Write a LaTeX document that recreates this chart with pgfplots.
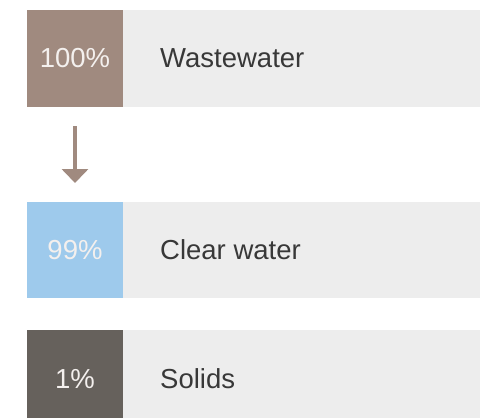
\documentclass[border=0pt]{standalone}
\usepackage{fontspec}
\setmainfont{Liberation Sans}
\usepackage{pgfplots}
\pgfplotsset{compat=1.18}
\usetikzlibrary{arrows.meta}
\definecolor{boxbrown}{HTML}{A08A7F}
\definecolor{boxblue}{HTML}{9ECAEC}
\definecolor{boxdark}{HTML}{66615C}
\definecolor{bargrey}{HTML}{EDEDED}
\definecolor{txt}{HTML}{383838}
\definecolor{wtxt}{HTML}{F4F0EE}
\begin{document}
\begin{tikzpicture}
\begin{axis}[
  name=ax,
  scale only axis, width=480pt, height=418pt,
  xmin=0, xmax=480, ymin=0, ymax=418, y dir=reverse,
  axis lines=none, ticks=none, clip=true,
]
% grey bars
\addplot[fill=bargrey, draw=none] coordinates {(123,10) (480,10) (480,107) (123,107)} -- cycle;
\addplot[fill=bargrey, draw=none] coordinates {(123,202) (480,202) (480,298) (123,298)} -- cycle;
\addplot[fill=bargrey, draw=none] coordinates {(123,330) (480,330) (480,418) (123,418)} -- cycle;
% coloured boxes
\addplot[fill=boxbrown, draw=none] coordinates {(27,10) (123,10) (123,107) (27,107)} -- cycle;
\addplot[fill=boxblue, draw=none] coordinates {(27,202) (123,202) (123,298) (27,298)} -- cycle;
\addplot[fill=boxdark, draw=none] coordinates {(27,330) (123,330) (123,418) (27,418)} -- cycle;
% arrow
\addplot[boxbrown, line width=4.5pt, -{Triangle[width=26pt,length=14pt]}] coordinates {(75,126) (75,183)};
% texts
\node[text=wtxt, font=\fontsize{27.5}{32}\selectfont] at (axis cs:75,58.5) {100\%};
\node[text=wtxt, font=\fontsize{27.5}{32}\selectfont] at (axis cs:75,250) {99\%};
\node[text=wtxt, font=\fontsize{27.5}{32}\selectfont] at (axis cs:75,379) {1\%};
\node[text=txt, anchor=west, inner sep=0pt, font=\fontsize{27.5}{32}\selectfont] at (axis cs:160,58.5) {Wastewater};
\node[text=txt, anchor=west, inner sep=0pt, font=\fontsize{27.5}{32}\selectfont] at (axis cs:160,250) {Clear water};
\node[text=txt, anchor=west, inner sep=0pt, font=\fontsize{27.5}{32}\selectfont] at (axis cs:160,379) {Solids};
\end{axis}
\pgfresetboundingbox
\useasboundingbox (ax.south west) rectangle (ax.north east);
\end{tikzpicture}
\end{document}
